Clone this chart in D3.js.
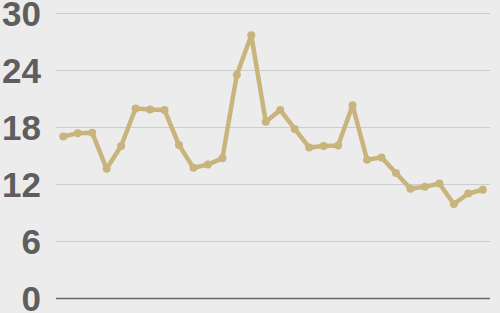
<!DOCTYPE html>
<html>
<head>
<meta charset="utf-8">
<script src="https://cdn.jsdelivr.net/npm/d3@7"></script>
<style>
  html, body { margin: 0; padding: 0; background: #ececec; }
  svg { display: block; }
</style>
</head>
<body>
<svg id="chart" width="500" height="313"></svg>
<script>
// Data
var periods = d3.range(1, 31);
var values = [17.0, 17.35, 17.4, 13.6, 16.0, 19.95, 19.85, 19.8, 16.1, 13.7,
              14.05, 14.7, 23.5, 27.65, 18.55, 19.8, 17.8, 15.85, 16.0, 16.05,
              20.3, 14.55, 14.8, 13.15, 11.5, 11.7, 12.05, 9.9, 11.0, 11.4];
var yTicks = [0, 6, 12, 18, 24, 30];

var width = 500,
    height = 313,
    margin = { top: 13, right: 10, bottom: 15, left: 56 };

var svg = d3.select("#chart");

var xScale = d3.scalePoint()
    .domain(periods)
    .range([margin.left, width - margin.right])
    .padding(0.5);

var yScale = d3.scaleLinear()
    .domain([0, 30])
    .range([height - margin.bottom, margin.top]);

// gridlines + labels
var yAxis = d3.axisLeft(yScale)
    .tickValues(yTicks)
    .tickSize(-(width - margin.left - margin.right))
    .tickPadding(15);

var gy = svg.append("g")
    .attr("transform", "translate(" + margin.left + ",0)")
    .call(yAxis);

gy.select(".domain").remove();
gy.selectAll(".tick line")
    .attr("stroke", function (d) { return d == 0 ? "#666666" : "#cccccc"; })
    .attr("stroke-width", function (d) { return d == 0 ? 1.5 : 1; });
gy.selectAll(".tick text")
    .attr("fill", "#5e5e5e")
    .attr("dy", "0.36em")
    .style("font-family", "'Liberation Sans', Arial, sans-serif")
    .style("font-weight", "bold")
    .style("font-size", "35px");

var line = d3.line()
    .x(function (d, i) { return xScale(periods[i]); })
    .y(function (d) { return yScale(d); });

svg.append("path")
    .datum(values)
    .attr("fill", "none")
    .attr("stroke", "#c8b47c")
    .attr("stroke-width", 4.5)
    .attr("stroke-linejoin", "round")
    .attr("d", line);

svg.append("g")
    .selectAll("circle")
    .data(values)
    .enter()
    .append("circle")
    .attr("cx", function (d, i) { return xScale(periods[i]); })
    .attr("cy", function (d) { return yScale(d); })
    .attr("r", 4)
    .attr("fill", "#c8b47c");
</script>
</body>
</html>
